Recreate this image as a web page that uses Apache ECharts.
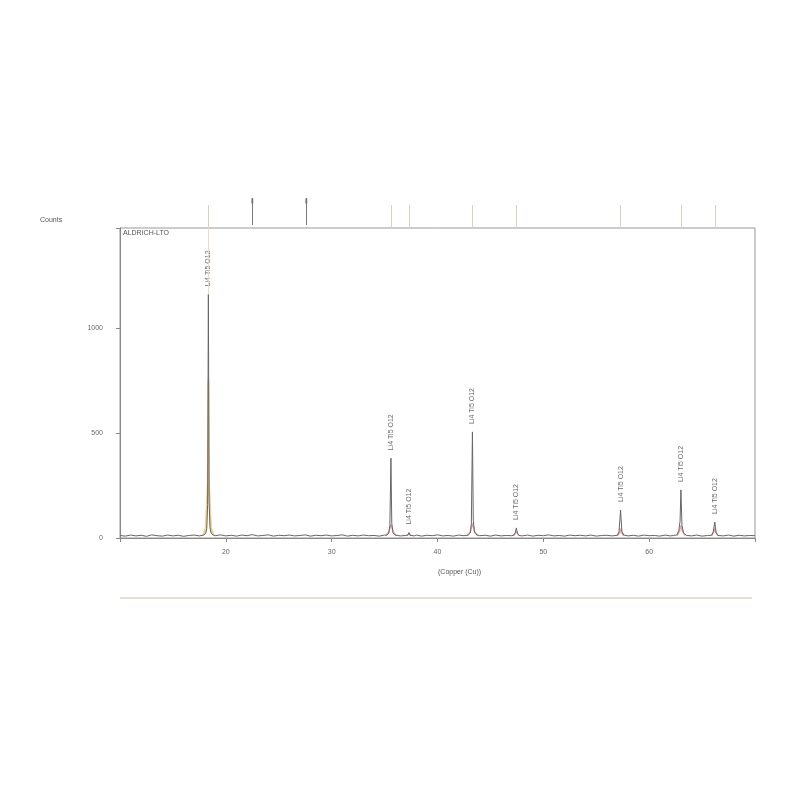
<!DOCTYPE html>
<html><head><meta charset="utf-8">
<script src="https://cdn.jsdelivr.net/npm/echarts@6/dist/echarts.min.js"></script>
<style>html,body{margin:0;background:#fff}#c{width:800px;height:800px}</style>
</head><body><div id="c"></div>
<script>
// measured pattern: [2theta, counts]
const pattern = [
 [10.0,12],[10.5,9],[11.0,14],[11.5,10],[12.0,13],[12.5,8],[13.0,15],[13.5,11],[14.0,9],[14.5,14],[15.0,10],[15.5,13],[16.0,8],[16.5,12],[17.0,14],[17.5,10],
 [17.9,14],[18.1,22],[18.2,45],[18.28,160],[18.35,1160],[18.42,170],[18.5,50],[18.6,24],[18.8,14],
 [19.0,11],[19.5,15],[20.0,10],[20.5,13],[21.0,9],[21.5,14],[22.0,11],[22.5,16],[23.0,10],[23.5,12],[24.0,15],[24.5,9],[25.0,13],[25.5,11],[26.0,14],[26.5,10],[27.0,12],[27.5,15],[28.0,9],[28.5,13],[29.0,11],[29.5,14],[30.0,10],[30.5,12],[31.0,15],[31.5,9],[32.0,13],[32.5,10],[33.0,14],[33.5,11],[34.0,12],[34.5,9],[35.0,14],
 [35.2,13],[35.4,22],[35.5,60],[35.6,380],[35.68,70],[35.8,25],[36.0,14],
 [36.5,10],[37.0,12],[37.2,14],[37.3,26],[37.4,13],[37.8,10],[38.0,14],[38.5,9],[39.0,13],[39.5,11],[40.0,15],[40.5,10],[41.0,12],[41.5,9],[42.0,14],[42.5,11],
 [42.9,14],[43.1,24],[43.2,70],[43.3,505],[43.38,85],[43.5,28],[43.7,15],
 [44.0,11],[44.5,13],[45.0,9],[45.5,14],[46.0,10],[46.5,12],[47.0,11],[47.2,13],[47.35,25],[47.45,48],[47.55,22],[47.7,12],[48.0,10],[48.5,14],[49.0,9],[49.5,13],[50.0,11],[50.5,15],[51.0,10],[51.5,12],[52.0,9],[52.5,14],[53.0,11],[53.5,13],[54.0,10],[54.5,14],[55.0,9],[55.5,12],[56.0,13],[56.5,10],
 [57.0,13],[57.15,30],[57.3,133],[57.42,32],[57.6,14],
 [58.0,10],[58.5,13],[59.0,9],[59.5,14],[60.0,11],[60.5,12],[61.0,9],[61.5,14],[62.0,10],[62.3,12],
 [62.6,14],[62.8,35],[62.92,80],[63.0,229],[63.1,60],[63.25,24],[63.5,13],
 [64.0,10],[64.5,14],[65.0,9],[65.5,12],[65.9,13],[66.05,28],[66.2,76],[66.32,26],[66.5,12],[67.0,10],[67.5,14],[68.0,9],[68.5,13],[69.0,10],[69.5,12],[70.0,11]
];
// fitted profile near the main peak (orange) and the base of other peaks (pink)
const profileMain = [[17.85,12],[18.1,45],[18.3,260],[18.35,750],[18.4,260],[18.6,45],[18.85,12]];
const profileOther = [
 [35.1,11],[35.4,30],[35.6,65],[35.8,30],[36.1,11],null,
 [37.1,11],[37.3,20],[37.5,11],null,
 [42.8,11],[43.1,30],[43.3,70],[43.5,30],[43.8,11],null,
 [47.2,11],[47.45,30],[47.7,11],null,
 [57.0,11],[57.2,25],[57.3,45],[57.4,25],[57.6,11],null,
 [62.65,11],[62.85,30],[63.0,60],[63.15,30],[63.4,11],null,
 [65.9,11],[66.1,28],[66.2,45],[66.3,28],[66.5,11]
];
// peak labels
const peakPos = [18.35,35.6,37.3,43.3,47.45,57.3,63.0,66.2];
const peakCounts = [1160,380,26,505,48,133,229,76];
const peakLabel = 'Li4 Ti5 O12';
// reference markers in the top strip
const refLight = [18.35,35.6,37.3,43.3,47.45,57.3,63.0,66.2];
const refDark = [22.5,27.6];
const xTicks = [20,30,40,50,60];
const yTicks = [0,500,1000];
const residual = [[10,0],[70,0]];

const F = 'Liberation Sans, Arial, sans-serif';
const chart = echarts.init(document.getElementById('c'));
chart.setOption({
  animation:false,
  backgroundColor:'#fff',
  title:[
    {text:'Counts', left:40, top:217, padding:0, textStyle:{fontSize:7, fontWeight:'normal', color:'#555', fontFamily:F}},
    {text:'ALDRICH-LTO', left:123, top:230, padding:0, textStyle:{fontSize:7, fontWeight:'normal', color:'#555', fontFamily:F}},
    {text:'(Copper (Cu))', left:438, top:569, padding:0, textStyle:{fontSize:7, fontWeight:'normal', color:'#555', fontFamily:F}}
  ],
  grid:[
    {left:120, right:45, top:228, height:310, show:true, borderColor:'#999', borderWidth:1},
    {left:120, right:45, top:195, height:33},
    {left:120, right:48, top:590, height:16}
  ],
  xAxis:[
    {gridIndex:0, type:'value', min:10, max:70, interval:10,
     axisLine:{lineStyle:{color:'#888'}}, axisTick:{length:4, lineStyle:{color:'#888'}},
     splitLine:{show:false},
     axisLabel:{fontSize:7, color:'#666', fontFamily:F, margin:11,
       formatter:v=> xTicks.includes(v) ? String(v) : ''}},
    {gridIndex:1, type:'value', min:10, max:70, show:false},
    {gridIndex:2, type:'value', min:10, max:70, show:false}
  ],
  yAxis:[
    {gridIndex:0, type:'value', min:0, max:1476, interval:500,
     axisLine:{show:true, lineStyle:{color:'#888'}}, axisTick:{show:true, length:4, lineStyle:{color:'#888'}},
     splitLine:{show:false},
     axisLabel:{fontSize:7, color:'#666', fontFamily:F, margin:17,
       formatter:v=> yTicks.includes(v) ? String(v) : ''}},
    {gridIndex:1, type:'value', min:0, max:33, show:false},
    {gridIndex:2, type:'value', min:-1, max:1, show:false}
  ],
  series:[
    {type:'line', xAxisIndex:0, yAxisIndex:0, data:profileMain, symbol:'none',
     lineStyle:{color:'#f2cf8a', width:2}, z:1, silent:true},
    {type:'line', xAxisIndex:0, yAxisIndex:0, data:profileOther, symbol:'none', connectNulls:false,
     lineStyle:{color:'#e6a8a8', width:1.5}, z:1, silent:true},
    {type:'line', xAxisIndex:0, yAxisIndex:0, data:pattern, symbol:'none',
     lineStyle:{color:'#666', width:1}, z:3, silent:true,
     markLine:{silent:true, symbol:'none', label:{show:false},
       lineStyle:{color:'#e8dcc4', width:1, type:'solid'},
       data:[[{coord:[refLight[0],peakCounts[0]]},{coord:[refLight[0],1476]}]]}},
    {type:'scatter', xAxisIndex:0, yAxisIndex:0, symbolSize:0,
     data:peakPos.map((x,i)=>[x,peakCounts[i]]), z:4,
     label:{show:true, position:'top', distance:8, rotate:90, align:'left', verticalAlign:'middle',
       formatter:()=>peakLabel, fontSize:7, color:'#444', fontFamily:F}},
    {type:'line', xAxisIndex:1, yAxisIndex:1, data:[[10,0],[70,0]], symbol:'none',
     lineStyle:{opacity:0}, silent:true,
     markLine:{silent:true, symbol:'none', label:{show:false}, animation:false,
       data:[
         ...refLight.map(x=>[{coord:[x,0],lineStyle:{color:'#d8cfc0',width:1,type:'solid'}},{coord:[x,23]}]),
         ...refDark.map(x=>[{coord:[x,3],lineStyle:{color:'#777',width:1,type:'solid'}},{coord:[x,30]}])
       ]}},
    {type:'scatter', xAxisIndex:1, yAxisIndex:1, symbol:'rect', symbolSize:[2,5],
     data:refDark.map(x=>[x,27]), itemStyle:{color:'#666'}, silent:true},
    {type:'line', xAxisIndex:2, yAxisIndex:2, data:residual, symbol:'none',
     lineStyle:{color:'#ddd4c4', width:1.5}, silent:true}
  ]
});
</script></body></html>
